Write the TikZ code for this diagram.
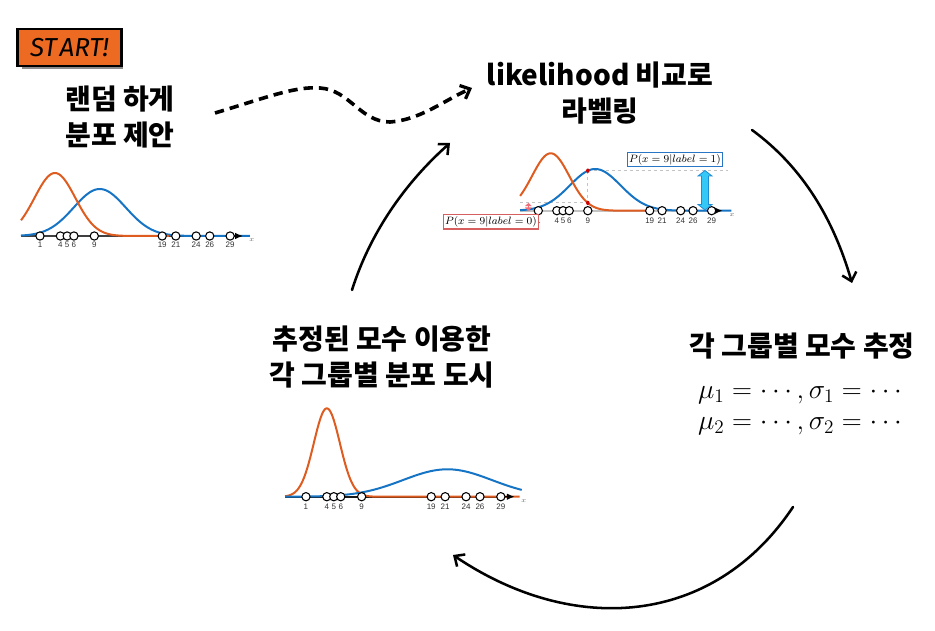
\documentclass[tikz,border=0pt]{standalone}
\usepackage{fontspec}
\newfontfamily\kr{Noto Sans CJK KR}
\newfontfamily\labfont{Liberation Sans}
\newfontfamily\comicfont{Fira Sans}
\usetikzlibrary{arrows.meta}
\definecolor{corange}{RGB}{222,92,32}
\definecolor{cblue}{RGB}{22,116,196}
\definecolor{startfill}{RGB}{236,106,34}
\definecolor{boxred}{RGB}{214,96,96}
\definecolor{boxblue}{RGB}{40,118,196}
\definecolor{cyanfill}{RGB}{52,200,246}
\definecolor{cyanedge}{RGB}{30,140,210}
\definecolor{guide}{RGB}{195,195,195}
\definecolor{pinkarrow}{RGB}{240,110,120}
\begin{document}
\begin{tikzpicture}[x=0.75pt,y=-0.75pt,
  ktext/.style={font=\kr\bfseries\fontsize{21}{27}\selectfont, align=center, inner sep=0pt},
  mtext/.style={font=\fontsize{22}{26}\selectfont, inner sep=0pt},
  pt/.style={circle, draw=black, fill=white, line width=0.8pt, inner sep=0pt, minimum size=6.2pt},
  lab/.style={font=\labfont\fontsize{6}{6}\selectfont, text=black!80, inner sep=0pt},
  xlab/.style={font=\fontsize{5}{5}\selectfont, text=black!60, inner sep=0pt},
  gcurve/.style={line width=1.5pt},
  cycarrow/.style={line width=1.9pt, -{Straight Barb[length=6pt,width=11pt,line width=1.9pt]}, line cap=round},
  dasharrow/.style={line width=2.7pt, dash pattern=on 7pt off 4.5pt, -{Straight Barb[length=6pt,width=11pt,line width=2.4pt]}},
  lbox/.style={draw, line width=0.9pt, fill=white, minimum width=66pt, minimum height=11pt, inner sep=1pt, font=\fontsize{8.3}{9}\selectfont},
  guideline/.style={guide, line width=0.8pt, dash pattern=on 2.5pt off 2pt}
]
\useasboundingbox (0,0) rectangle (935,631);

% START badge
\fill[black!45] (22,64) rectangle (123,69.5);
\node[draw=black, line width=1.6pt, fill=startfill, minimum width=78pt, minimum height=27.5pt,
      font=\comicfont\itshape\fontsize{19.5}{19.5}\selectfont, inner sep=0pt] (start) at (69.5,47.4) {ST\kern2pt ART!};

% texts
\node[ktext] (t1) at (120,117) {랜덤 하게\\분포 제안};
\node[ktext] (t2) at (600,93) {likelihood 비교로\\라벨링};
\node[ktext] (t3) at (382,357) {추정된 모수 이용한\\각 그룹별 분포 도시};
\node[ktext] (t4) at (802,346) {각 그룹별 모수 추정};
\node[mtext] (m1) at (800,395) {$\mu_1 = \cdots, \sigma_1 = \cdots$};
\node[mtext] (m2) at (800,426) {$\mu_2 = \cdots, \sigma_2 = \cdots$};

% ---------- top-left plot ----------
\begin{scope}[shift={(33.2,236)}, xscale=6.79]
  \draw[line width=1.5pt, black!75] (-1.8,0) -- (30.3,0);
  \draw[gcurve, cblue] plot[domain=-1.8:31.9, samples=120] (\x, {-47*exp(-((\x-9.8)^2)/29.3)});
  \draw[gcurve, corange] plot[domain=-1.8:20, samples=100] (\x, {-63*exp(-((\x-3.2)^2)/18)});
  \draw[-{Latex[length=6pt,width=5pt]}, line width=1pt] (29.6,0) -- (30.9,0);
  \foreach \v in {1,4,5,6,9,19,21,24,26,29} {
    \node[pt] (a\v) at (\v,0) {};
    \node[lab] (al\v) at (\v,8.5) {\v};
  }
  \node[xlab] (ax) at (32.2,4) {$x$};
\end{scope}

% ---------- top-right plot ----------
\begin{scope}[shift={(532.1,210.7)}, xscale=6.19]
  \draw[line width=1.5pt, guide] (-1.94,0) -- (30.3,0);
  \draw[guideline] (9,-40) -- (31.6,-40);
  \draw[guideline] (9,-40) -- (9,0);
  \draw[guideline] (-1.94,-7.8) -- (9,-7.8);
  \draw[gcurve, cblue] plot[domain=-1.94:32.2, samples=120] (\x, {-41.7*exp(-((\x-10.2)^2)/33.6)});
  \draw[gcurve, corange] plot[domain=-1.94:19, samples=100] (\x, {-57.4*exp(-((\x-3)^2)/18)});
  \draw[-{Latex[length=6pt,width=5pt]}, line width=1pt] (29.6,0) -- (30.8,0);
  \draw[pinkarrow, line width=1.2pt, {Triangle[length=2.5pt,width=5pt]}-{Triangle[length=2.5pt,width=5pt]}] (-0.6,-7.8) -- (-0.6,0);
  \fill[red!80!black] (9,-40) circle[x radius=0.28, y radius=2.2];
  \fill[red!80!black] (9,-7.8) circle[x radius=0.28, y radius=2.2];
  \foreach \v in {1,4,5,6,9,19,21,24,26,29} {
    \node[pt] (b\v) at (\v,0) {};
    \node[lab] (bl\v) at (\v,10.3) {\v};
  }
  \node[xlab] (bx) at (32.3,4.5) {$x$};
\end{scope}
% cyan double arrow
\filldraw[fill=cyanfill, draw=cyanedge, line width=0.6pt]
  (705,170.5) -- (712,176) -- (708.5,176) -- (708.5,204.5) -- (712,204.5) -- (705,210) -- (698,204.5)
  -- (701.5,204.5) -- (701.5,176) -- (698,176) -- cycle;
\node[lbox, draw=boxblue] (lb1) at (674.9,159.5) {$P(x=9|label=1)$};
\node[lbox, draw=boxred] (lb0) at (490.9,221.7) {$P(x=9|label=0)$};

% ---------- bottom plot ----------
\begin{scope}[shift={(299,496.7)}, xscale=6.96]
  \draw[line width=1.5pt, black!90] (-2,0) -- (30.3,0);
  \draw[gcurve, corange] plot[domain=-2:31.7, samples=160] (\x, {-88.4*exp(-((\x-4)^2)/7)});
  \draw[gcurve, cblue] plot[domain=-2:32, samples=120] (\x, {-27.4*exp(-((\x-21.33)^2)/81.9)});
  \draw[-{Latex[length=6pt,width=5pt]}, line width=1pt] (29.6,0) -- (31,0);
  \foreach \v in {1,4,5,6,9,19,21,24,26,29} {
    \node[pt] (c\v) at (\v,0) {};
    \node[lab] (cl\v) at (\v,10.3) {\v};
  }
  \node[xlab] (cx) at (32.3,4) {$x$};
\end{scope}

% ---------- cycle arrows ----------
\coordinate (d0) at (215,113);
\coordinate (d1) at (320,88);
\coordinate (d2) at (390,122);
\coordinate (d3) at (472,88);
\draw[dasharrow] (d0) .. controls (265,98) and (295,86) .. (d1)
  .. controls (350,90) and (360,122) .. (d2)
  .. controls (420,120) and (445,100) .. (d3);

\coordinate (r0) at (752,130);
\coordinate (r1) at (852,283);
\draw[cycarrow] (r0) .. controls (804,168) and (834,221) .. (r1);

\coordinate (s0) at (793,507);
\coordinate (s1) at (453,555);
\draw[cycarrow] (s0) .. controls (713,627) and (573,636) .. (s1);

\coordinate (u0) at (352,290);
\coordinate (u1) at (450,143);
\draw[cycarrow] (u0) .. controls (370,233) and (405,183) .. (u1);
\end{tikzpicture}
\end{document}
